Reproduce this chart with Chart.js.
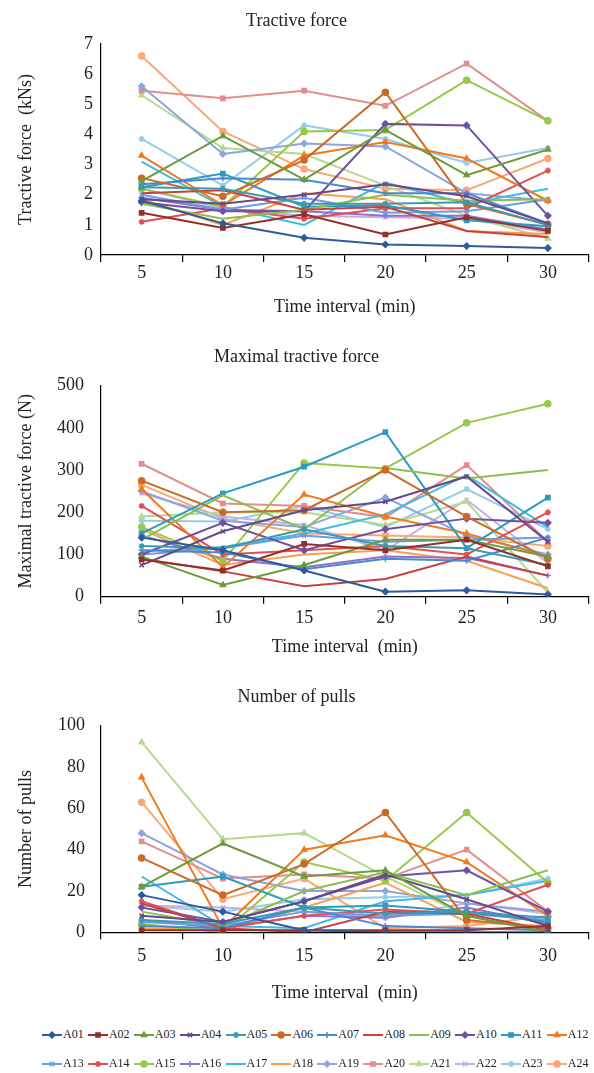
<!DOCTYPE html>
<html>
<head>
<meta charset="utf-8">
<script src="https://cdn.jsdelivr.net/npm/chart.js@4.4.1/dist/chart.umd.min.js"></script>
<style>
  html, body { margin: 0; padding: 0; background: #fff; }
  body { width: 594px; height: 1073px; position: relative; overflow: hidden; font-family: "Liberation Serif", "Times New Roman", serif; }
  .box { position: absolute; left: 0; width: 594px; }
  #legend { position: absolute; left: 42px; top: 1020px; width: 552px; display: flex; flex-wrap: wrap; }
  .item { width: 45.9px; height: 29px; display: flex; align-items: center; font-size: 12px; color: #222; white-space: nowrap; }
  .item canvas { margin-right: 1px; }
</style>
</head>
<body>
<div class="box" style="top:0px"><canvas id="c1" width="594" height="330"></canvas></div>
<div class="box" style="top:335px"><canvas id="c2" width="594" height="330"></canvas></div>
<div class="box" style="top:675px"><canvas id="c3" width="594" height="340"></canvas></div>
<div id="legend"></div>
<script>
// ---- Data ----
const timeLabels = ['5', '10', '15', '20', '25', '30'];

const seriesNames = ['A01', 'A02', 'A03', 'A04', 'A05', 'A06', 'A07', 'A08', 'A09', 'A10', 'A11', 'A12',
    'A13', 'A14', 'A15', 'A16', 'A17', 'A18', 'A19', 'A20', 'A21', 'A22', 'A23', 'A24'];

const seriesColors = ['#2e5c9a', '#94302c', '#6e9b3c', '#67498a', '#3a9ab0', '#cc6a26', '#4a88d0', '#c84040',
    '#8cbf50', '#7050a0', '#2a9cc0', '#f07a20', '#6a9ce8', '#e05050', '#98c84a', '#9070c8',
    '#40bce0', '#f8a050', '#8ba6dd', '#e08e8e', '#b5d98f', '#c4b0e4', '#93cde8', '#f9a877'];

const seriesMarkers = ['rectRot', 'rect', 'triangle', 'crossRot', 'star', 'circle', 'cross', false,
    false, 'rectRot', 'rect', 'triangle', 'crossRot', 'star', 'circle', 'cross',
    false, false, 'rectRot', 'rect', 'triangle', 'crossRot', 'star', 'circle'];

// kNs, one row per series A01..A24
const tractiveForce = [
    [1.8, 1.05, 0.57, 0.35, 0.30, 0.23],
    [1.4, 0.9, 1.35, 0.68, 1.25, 0.8],
    [2.45, 3.95, 2.5, 4.15, 2.65, 3.5],
    [1.85, 1.7, 2.0, 2.35, 1.95, 1.05],
    [2.25, 2.2, 1.7, 1.7, 1.75, 1.0],
    [2.55, 1.95, 3.15, 5.4, 1.7, 1.0],
    [2.35, 2.55, 2.5, 2.05, 2.05, 1.05],
    [2.05, 2.15, 1.5, 1.6, 0.8, 0.6],
    [1.7, 1.2, 1.5, 2.0, 1.8, 1.85],
    [1.75, 1.45, 1.45, 4.35, 4.3, 1.3],
    [2.25, 2.7, 1.6, 1.65, 1.15, 0.95],
    [3.3, 1.65, 3.3, 3.75, 3.2, 1.8],
    [2.0, 1.5, 1.9, 1.4, 1.45, 1.85],
    [1.1, 1.55, 1.2, 1.55, 1.55, 2.8],
    [2.2, 1.6, 4.1, 4.15, 5.8, 4.45],
    [1.9, 1.5, 1.45, 1.3, 1.3, 0.85],
    [3.1, 1.6, 1.0, 2.4, 1.7, 2.2],
    [1.85, 1.0, 2.05, 1.85, 0.8, 0.7],
    [5.6, 3.35, 3.7, 3.6, 2.05, 1.8],
    [5.45, 5.2, 5.45, 4.95, 6.35, 4.45],
    [5.3, 3.55, 3.35, 2.3, 1.3, 0.55],
    [2.2, 1.55, 1.3, 1.25, 1.2, 0.75],
    [3.85, 2.3, 4.3, 3.85, 3.05, 3.55],
    [6.6, 4.1, 2.85, 2.2, 2.15, 3.2]
];

// N
const maxTractiveForce = [
    [140, 110, 62, 12, 15, 5],
    [88, 62, 125, 110, 135, 72],
    [95, 28, 75, 135, 135, 95],
    [75, 155, 205, 225, 285, 130],
    [120, 115, 160, 120, 115, 75],
    [275, 200, 205, 300, 190, 90],
    [110, 105, 65, 90, 85, 140],
    [90, 60, 25, 42, 95, 50],
    [135, 240, 160, 305, 280, 300],
    [100, 175, 110, 160, 185, 175],
    [150, 245, 308, 390, 115, 235],
    [255, 70, 242, 190, 150, 95],
    [100, 115, 145, 130, 135, 140],
    [215, 100, 110, 120, 100, 200],
    [165, 85, 317, 304, 412, 457],
    [145, 90, 70, 95, 92, 50],
    [108, 118, 150, 195, 288, 165],
    [160, 75, 100, 110, 85, 20],
    [250, 180, 165, 235, 145, 100],
    [315, 221, 215, 188, 312, 130],
    [190, 200, 200, 170, 225, 10],
    [245, 190, 170, 110, 230, 80],
    [180, 178, 215, 165, 255, 160],
    [265, 185, 150, 145, 140, 120]
];

// count
const numberOfPulls = [
    [18, 10, 1, 0, 0, 0],
    [1, 1, 1, 1, 1, 3],
    [22, 43, 27, 30, 8, 0],
    [8, 5, 15, 28, 16, 3],
    [6, 4, 12, 9, 10, 7],
    [36, 18, 33, 58, 6, 2],
    [3, 2, 12, 3, 2, 1],
    [14, 2, 0, 10, 9, 1],
    [10, 3, 20, 29, 18, 30],
    [12, 5, 15, 27, 30, 10],
    [22, 27, 12, 13, 10, 5],
    [75, 2, 40, 47, 34, 8],
    [5, 3, 10, 8, 9, 6],
    [15, 2, 8, 11, 9, 23],
    [4, 0, 34, 25, 58, 24],
    [6, 2, 8, 7, 12, 4],
    [27, 3, 2, 15, 18, 25],
    [2, 1, 12, 24, 5, 3],
    [48, 28, 20, 20, 14, 10],
    [44, 26, 28, 26, 40, 10],
    [92, 45, 48, 27, 8, 0],
    [13, 12, 10, 7, 14, 9],
    [13, 10, 16, 17, 18, 26],
    [63, 16, 26, 2, 3, 8]
];

// ---- Charts Logic ----
const serif = '"Liberation Serif", "Times New Roman", serif';
Chart.defaults.font.family = serif;
Chart.defaults.color = '#222';

function makeDatasets(rows) {
    return rows.map(function (values, i) {
        return {
            label: seriesNames[i],
            data: values,
            borderColor: seriesColors[i],
            backgroundColor: seriesColors[i],
            borderWidth: 2,
            pointStyle: seriesMarkers[i] || 'circle',
            pointRadius: seriesMarkers[i] ? 3 : 0,
            pointBorderWidth: 1.5,
            tension: 0
        };
    });
}

function buildChart(id, opts) {
    const el = document.getElementById(id);
    const h = el.height;
    return new Chart(el.getContext('2d'), {
        type: 'line',
        data: { labels: timeLabels, datasets: makeDatasets(opts.rows) },
        options: {
            responsive: false,
            animation: false,
            layout: { padding: { left: 0, right: 1, top: 0, bottom: 0 } },
            plugins: {
                legend: { display: false },
                tooltip: { enabled: false },
                title: {
                    display: true,
                    text: opts.title,
                    color: '#222',
                    font: { size: 18, weight: 'normal', family: serif },
                    padding: opts.titlePad
                }
            },
            scales: {
                x: {
                    offset: true,
                    grid: { display: true, drawOnChartArea: false, drawTicks: true, tickLength: 7, offset: true, color: '#000', lineWidth: 1.2 },
                    border: { display: true, color: '#000', width: 1.2 },
                    ticks: { color: '#222', font: { size: 18 }, padding: opts.xTickPad, maxRotation: 0 },
                    title: { display: true, text: opts.xTitle, color: '#222', font: { size: 18 }, padding: { top: 0, bottom: opts.xTitleBottom } },
                    afterFit: function (s) { s.height = h - opts.plotBottom; }
                },
                y: {
                    min: 0,
                    max: opts.yMax,
                    grid: { display: false, drawTicks: false },
                    border: { display: true, color: '#000', width: 1.2 },
                    ticks: { stepSize: opts.yStep, color: '#222', font: { size: 18 }, padding: opts.yTickPad },
                    title: { display: true, text: opts.yTitle, color: '#222', font: { size: 18 }, padding: { top: 15, bottom: 0 } },
                    afterFit: function (s) { s.width = 101; }
                }
            }
        }
    });
}

buildChart('c1', {
    rows: tractiveForce, title: 'Tractive force', titlePad: { top: 10, bottom: 12.4 },
    yTitle: 'Tractive force  (kNs)', yMax: 7, yStep: 1, yTickPad: 8,
    xTitle: 'Time interval (min)', xTickPad: 0.5, xTitleBottom: 12.2, plotBottom: 255
});

buildChart('c2', {
    rows: maxTractiveForce, title: 'Maximal tractive force', titlePad: { top: 11, bottom: 18.1 },
    yTitle: 'Maximal tractive force (N)', yMax: 500, yStep: 100, yTickPad: 17,
    xTitle: 'Time interval  (min)', xTickPad: 3.8, xTitleBottom: 7.2, plotBottom: 261.7
});

buildChart('c3', {
    rows: numberOfPulls, title: 'Number of pulls', titlePad: { top: 11, bottom: 18.1 },
    yTitle: 'Number of pulls', yMax: 100, yStep: 20, yTickPad: 16,
    xTitle: 'Time interval  (min)', xTickPad: 6.6, xTitleBottom: 11.2, plotBottom: 257.3
});

// ---- Legend ----
function legendIcon(color, marker) {
    const c = document.createElement('canvas');
    c.width = 20;
    c.height = 12;
    const ctx = c.getContext('2d');
    ctx.strokeStyle = color;
    ctx.fillStyle = color;
    ctx.lineWidth = 2;
    ctx.beginPath();
    ctx.moveTo(0, 6);
    ctx.lineTo(20, 6);
    ctx.stroke();
    if (marker && Chart.helpers && Chart.helpers.drawPoint) {
        ctx.lineWidth = 1.5;
        Chart.helpers.drawPoint(ctx, { pointStyle: marker, radius: 3, rotation: 0, borderWidth: 1.5 }, 10, 6);
    }
    return c;
}

const legendEl = document.getElementById('legend');
seriesNames.forEach(function (name, i) {
    const item = document.createElement('div');
    item.className = 'item';
    item.appendChild(legendIcon(seriesColors[i], seriesMarkers[i]));
    const span = document.createElement('span');
    span.textContent = name;
    item.appendChild(span);
    legendEl.appendChild(item);
});
</script>
</body>
</html>
